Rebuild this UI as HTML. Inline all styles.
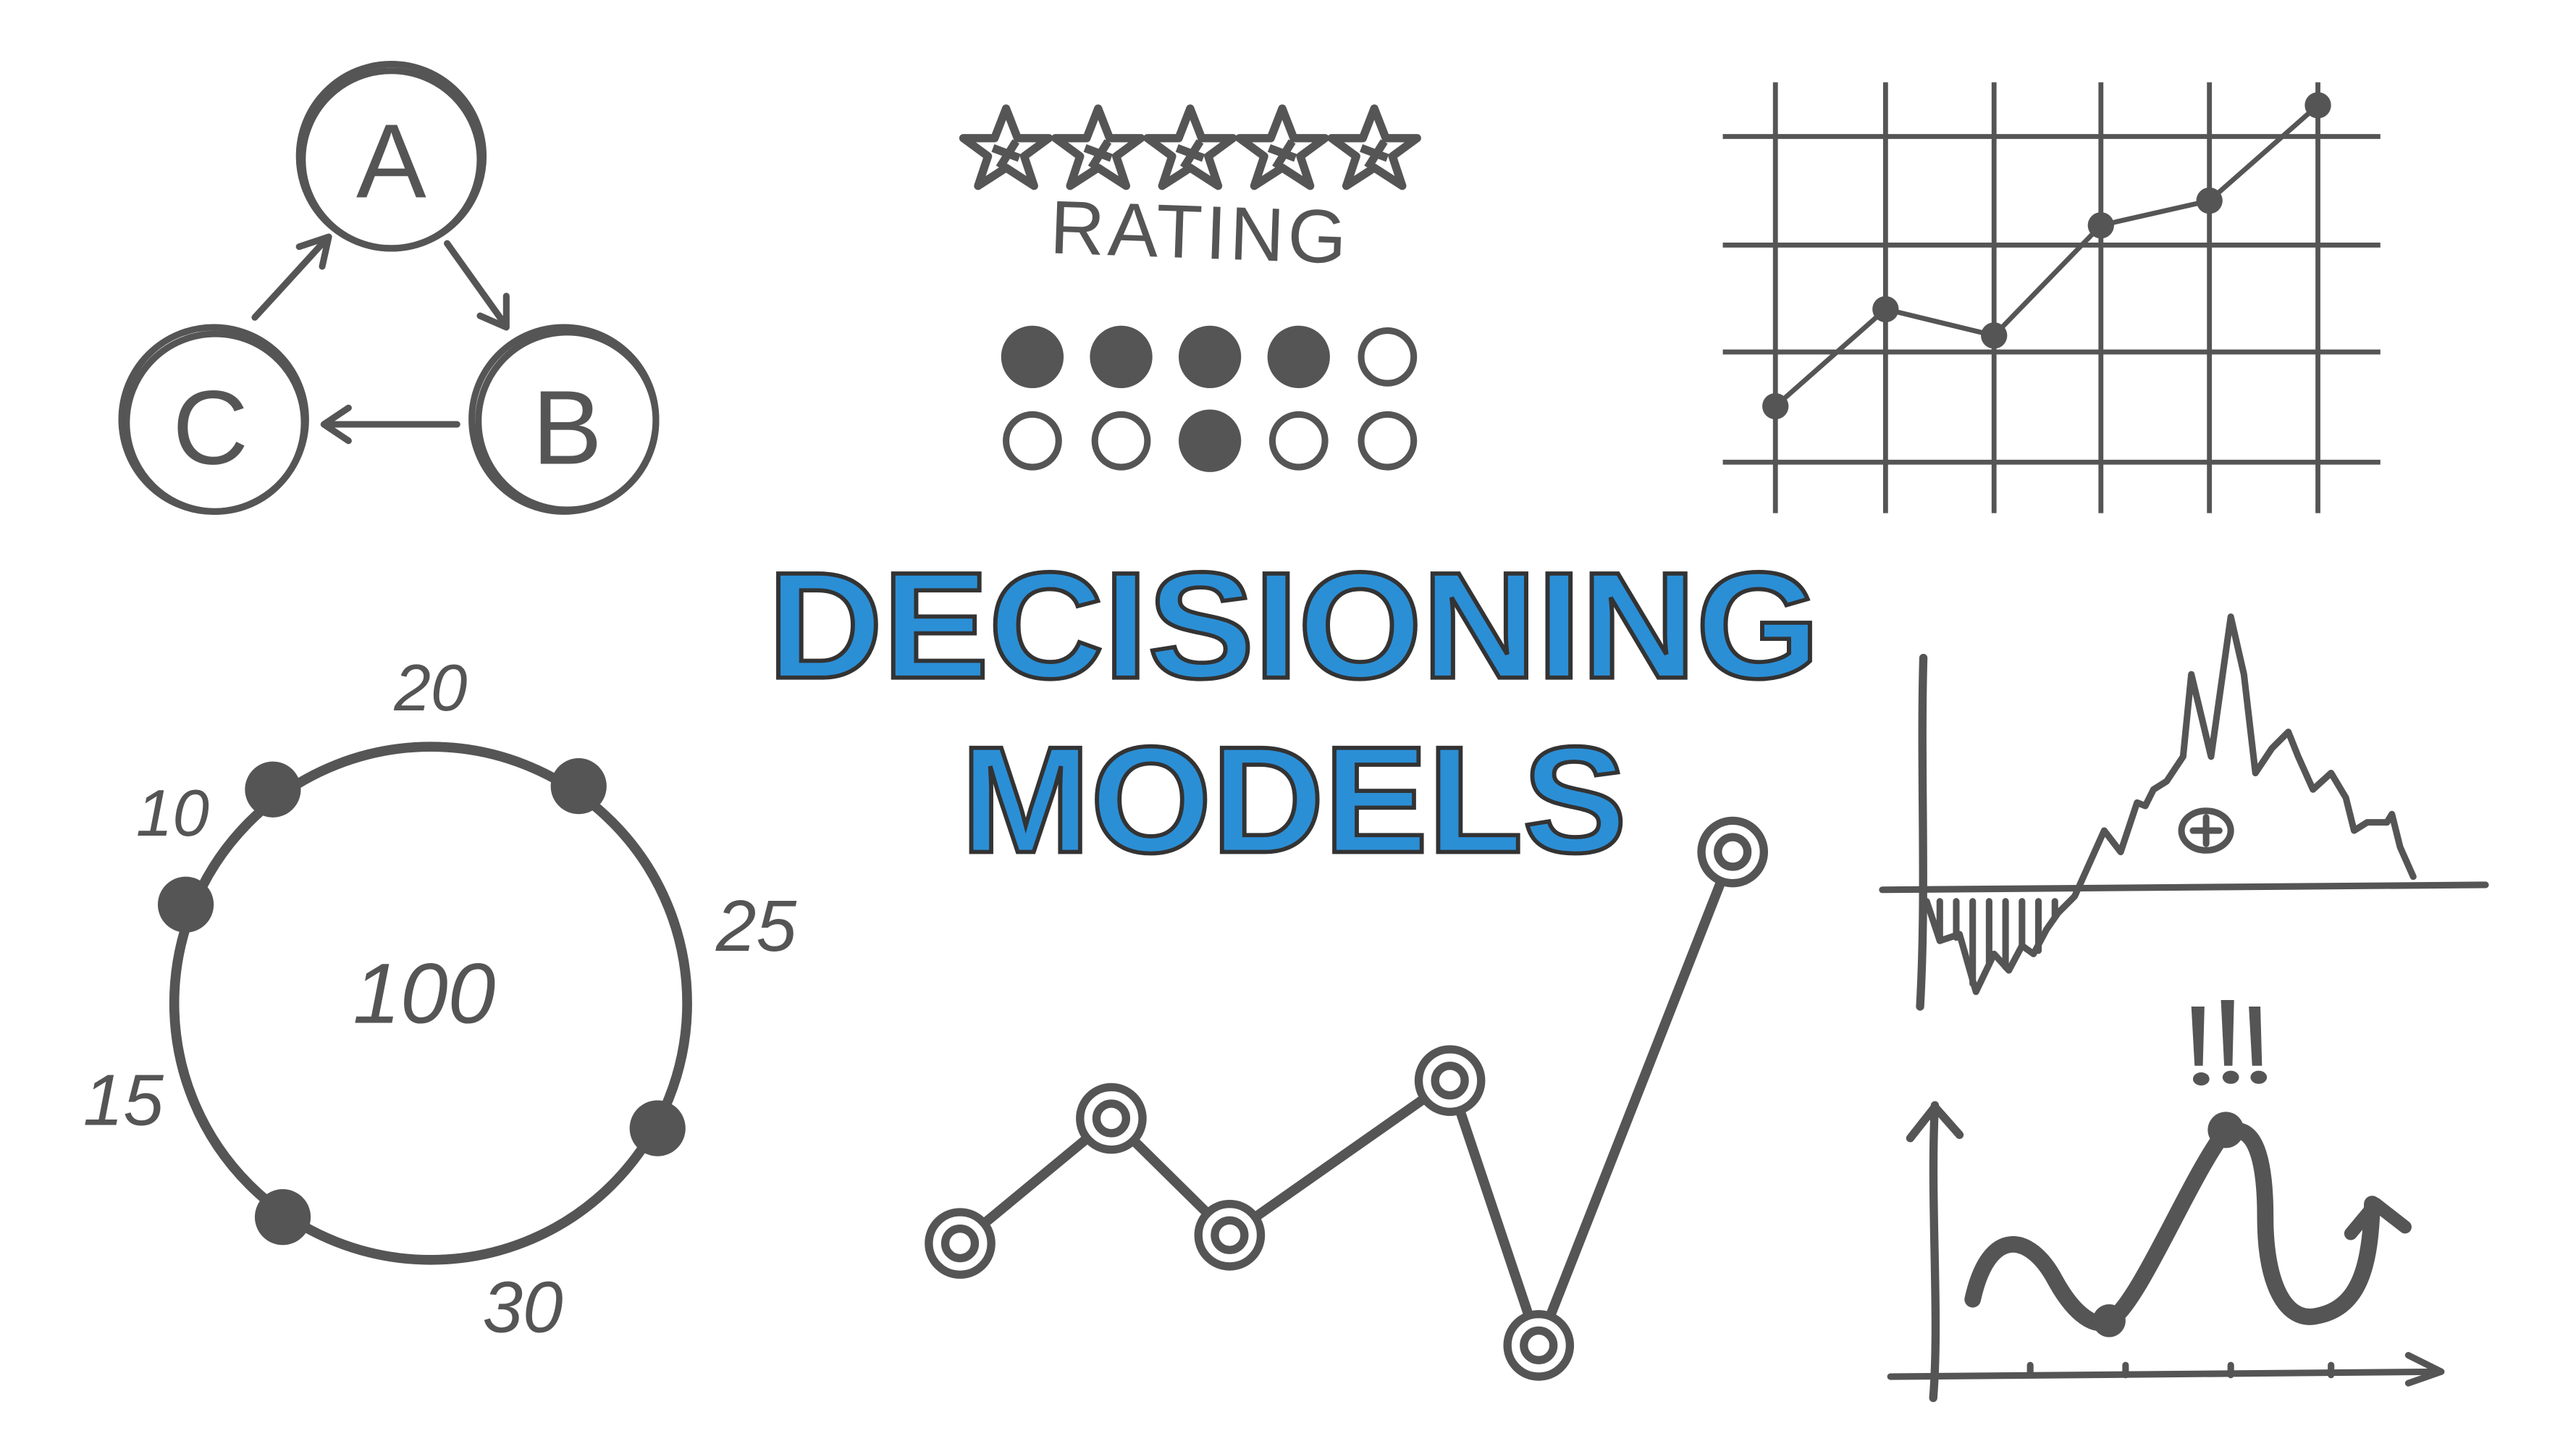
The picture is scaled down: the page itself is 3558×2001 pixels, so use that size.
<!DOCTYPE html>
<html><head><meta charset="utf-8"><style>
html,body{margin:0;padding:0;background:#fff;}
svg{display:block;}
</style></head><body>
<svg width="3558" height="2001" viewBox="0 0 1567 881" preserveAspectRatio="none" xmlns="http://www.w3.org/2000/svg">
<rect width="1567" height="881" fill="#fff"/>
<g stroke="#555" fill="none" stroke-linecap="round" stroke-linejoin="round">
<g stroke-width="4">
<circle cx="238" cy="95" r="56"/><circle cx="238" cy="97" r="54"/>
<circle cx="343" cy="255" r="56"/><circle cx="345" cy="256" r="54"/>
<circle cx="130" cy="255" r="56"/><circle cx="131" cy="257" r="54"/>
<path d="M155 193 L198 146 M182 150 L200 144 L196 162"/>
<path d="M272 148 L307 197 M292 192 L308 199 L308 180"/>
<path d="M278 258 L198 258 M212 248 L197 258 L212 268"/>
</g>
</g>
<g font-family="'Liberation Sans',sans-serif" fill="#555">
<text x="238" y="120" font-size="64" text-anchor="middle">A</text>
<text x="345" y="282" font-size="64" text-anchor="middle">B</text>
<text x="128" y="282" font-size="64" text-anchor="middle">C</text>
</g>
<g stroke="#555" stroke-width="5" fill="none" stroke-linejoin="round">
<path id="st" d="M612 66 L619 84 L638 84 L623 95 L629 113 L612 102 L595 113 L601 95 L586 84 L605 84 Z M604 90 L620 96 M608 102 L618 86"/>
<use href="#st" x="56"/><use href="#st" x="112"/><use href="#st" x="168"/><use href="#st" x="224"/>
</g>
<text x="730" y="157" font-family="'Liberation Sans',sans-serif" font-size="46" fill="#555" text-anchor="middle" letter-spacing="2" transform="rotate(2 730 140)">RATING</text>
<g stroke="#555" stroke-width="4" fill="#555">
<circle cx="628" cy="217" r="17"/><circle cx="682" cy="217" r="17"/><circle cx="736" cy="217" r="17"/><circle cx="790" cy="217" r="17"/>
<circle cx="844" cy="217" r="16" fill="none"/>
<circle cx="628" cy="268" r="16" fill="none"/><circle cx="682" cy="268" r="16" fill="none"/><circle cx="736" cy="268" r="17"/>
<circle cx="790" cy="268" r="16" fill="none"/><circle cx="844" cy="268" r="16" fill="none"/>
</g>
<g stroke="#555" stroke-width="3" fill="none">
<path d="M1080 50V312M1147 50V312M1213 50V312M1278 50V312M1344 50V312M1410 50V312"/>
<path d="M1048 83H1448M1048 149H1448M1048 214H1448M1048 281H1448"/>
<path d="M1080 247L1147 188L1213 204L1278 137L1344 122L1410 64"/>
</g>
<g fill="#555"><circle cx="1080" cy="247" r="8"/><circle cx="1147" cy="188" r="8"/><circle cx="1213" cy="204" r="8"/><circle cx="1278" cy="137" r="8"/><circle cx="1344" cy="122" r="8"/><circle cx="1410" cy="64" r="8"/></g>
<g font-family="'Liberation Sans',sans-serif" font-weight="bold" fill="#2b8fd6" stroke="#333" stroke-width="2.5" text-anchor="middle">
<text x="787" y="412" font-size="92" textLength="640" lengthAdjust="spacingAndGlyphs">DECISIONING</text>
<text x="787" y="518" font-size="92" textLength="405" lengthAdjust="spacingAndGlyphs">MODELS</text>
</g>
<circle cx="262" cy="610" r="156" stroke="#555" stroke-width="6" fill="none"/>
<g fill="#555"><circle cx="166" cy="480" r="17"/><circle cx="352" cy="478" r="17"/><circle cx="113" cy="550" r="17"/><circle cx="400" cy="686" r="17"/><circle cx="172" cy="740" r="17"/></g>
<g font-family="'Liberation Sans',sans-serif" font-style="italic" fill="#555" text-anchor="middle">
<text x="262" y="432" font-size="40">20</text>
<text x="105" y="508" font-size="40">10</text>
<text x="460" y="578" font-size="44">25</text>
<text x="258" y="622" font-size="52">100</text>
<text x="75" y="684" font-size="44">15</text>
<text x="318" y="810" font-size="44">30</text>
</g>
<path d="M584 756L676 680L748 751L882 657L936 818L1054 518" stroke="#555" stroke-width="6" fill="none" stroke-linejoin="round"/>
<g stroke="#555" stroke-width="5" fill="#fff">
<circle cx="584" cy="756" r="19"/><circle cx="676" cy="680" r="19"/><circle cx="748" cy="751" r="19"/><circle cx="882" cy="657" r="19"/><circle cx="936" cy="818" r="19"/><circle cx="1054" cy="518" r="19"/>
<circle cx="584" cy="756" r="9"/><circle cx="676" cy="680" r="9"/><circle cx="748" cy="751" r="9"/><circle cx="882" cy="657" r="9"/><circle cx="936" cy="818" r="9"/><circle cx="1054" cy="518" r="9"/>
</g>
<g stroke="#555" stroke-width="4" fill="none" stroke-linejoin="round" stroke-linecap="round">
<path d="M1170 400C1168 470 1172 540 1168 612" stroke-width="5"/>
<path d="M1145 541L1512 538"/>
<path d="M1172 548L1180 572L1192 568L1202 603L1213 580L1222 590L1230 575L1237 580L1245 565L1252 555L1262 545L1280 505L1290 518L1300 488L1305 490L1310 480L1318 475L1328 460L1333 410L1345 460L1357 375L1365 410L1372 470L1382 455L1392 445L1398 460L1407 480L1418 470L1427 485L1432 505L1440 500L1452 500L1455 495L1460 515L1468 533"/>
<path d="M1180 548V572M1190 548V570M1200 548V598M1210 548V586M1220 548V588M1230 548V575M1240 548V578M1250 548V557"/>
<ellipse cx="1342" cy="505" rx="15" ry="12"/>
<path d="M1342 497V513M1334 505H1350"/>
</g>
<g stroke="#555" fill="none" stroke-linecap="round" stroke-linejoin="round">
<path d="M1177 672C1174 730 1180 800 1176 850" stroke-width="5"/>
<path d="M1162 692L1177 673L1192 690" stroke-width="5"/>
<path d="M1150 837L1485 834" stroke-width="4"/>
<path d="M1465 824L1485 834L1465 841" stroke-width="4"/>
<path d="M1235 830v6M1293 830v6M1357 830v6M1418 830v6" stroke-width="4"/>
<path d="M1200 790C1210 745 1235 750 1250 778C1262 800 1275 808 1283 803C1300 795 1330 720 1352 690C1370 680 1378 700 1378 740C1378 780 1390 805 1410 800C1435 795 1442 770 1443 732" stroke-width="10"/>
<path d="M1430 750L1445 732L1463 746" stroke-width="8"/>
</g>
<g fill="#555"><circle cx="1283" cy="803" r="10"/><circle cx="1354" cy="687" r="11"/></g>
<g fill="#555">
<path d="M1333 612L1341 612L1340 648L1335 648Z"/><path d="M1351 608L1359 608L1358 648L1353 648Z"/><path d="M1368 612L1375 612L1376 648L1370 648Z"/>
<ellipse cx="1339" cy="656" rx="5" ry="4"/><ellipse cx="1357" cy="655" rx="5" ry="4"/><ellipse cx="1374" cy="655" rx="5" ry="4"/>
</g>
</svg>
</body></html>
